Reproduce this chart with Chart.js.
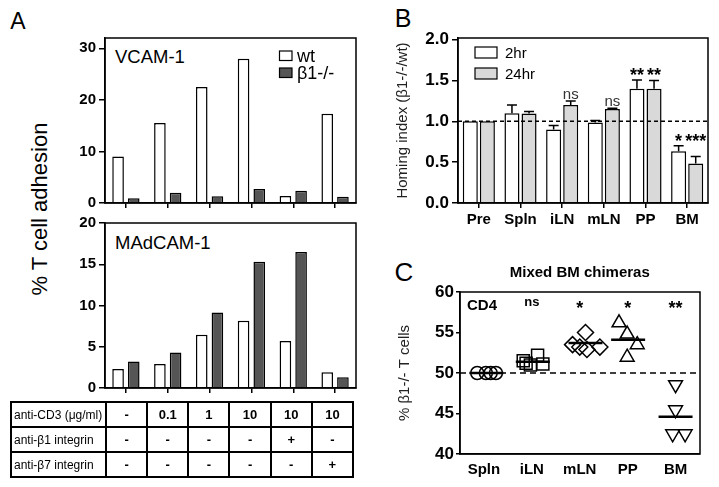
<!DOCTYPE html>
<html>
<head>
<meta charset="utf-8">
<script src="https://cdn.jsdelivr.net/npm/chart.js@4.4.1/dist/chart.umd.min.js"></script>
<style>
  body { margin: 0; background: #fff; font-family: 'Liberation Sans', Arial, sans-serif; }
  #fig { position: relative; width: 719px; height: 487px; overflow: hidden; }
  canvas { position: absolute; }
  .txt { position: absolute; white-space: nowrap; color: #000; line-height: 1; transform: translate(-50%, -50%); }
  #cond { position: absolute; left: 10px; top: 401px; border-collapse: collapse; table-layout: fixed; width: 344px; }
  #cond td { border: 2px solid #000; height: 25px; padding: 0; box-sizing: border-box; }
  #cond td.name { font-size: 12px; padding-left: 2px; width: 95px; }
  #cond td.val { font-size: 13px; font-weight: bold; text-align: center; }
</style>
</head>
<body>
<div id="fig">
  <div class="txt" style="left:18px;top:21px;font-size:23px;">A</div>
  <div class="txt" style="left:403px;top:18px;font-size:25px;">B</div>
  <div class="txt" style="left:404px;top:272px;font-size:26px;">C</div>
  <div class="txt" style="left:40px;top:209px;font-size:22px;transform:translate(-50%,-50%) rotate(-90deg);">% T cell adhesion</div>
  <div class="txt" style="left:115px;top:57px;font-size:18.5px;transform:translate(0,-50%);">VCAM-1</div>
  <div class="txt" style="left:115px;top:243px;font-size:18.5px;transform:translate(0,-50%);">MAdCAM-1</div>

  <canvas id="aTop" width="300" height="194" style="left:60px;top:24px;"></canvas>
  <canvas id="aBottom" width="300" height="194" style="left:60px;top:209px;"></canvas>
  <table id="cond"><tbody id="condBody"></tbody></table>
  <canvas id="homing" width="329" height="214" style="left:390px;top:20px;"></canvas>
  <canvas id="chimera" width="329" height="224" style="left:390px;top:262px;"></canvas>
</div>

<script>
// ---- panel A: adhesion ----
const cd3Doses = ['-', '0.1', '1', '10', '10', '10'];
const antiB1 = ['-', '-', '-', '-', '+', '-'];
const antiB7 = ['-', '-', '-', '-', '-', '+'];
const condRows = ['anti-CD3 (\u03bcg/ml)', 'anti-\u03b21 integrin', 'anti-\u03b27 integrin'];

const vcamWt = [9, 15.5, 22.5, 28, 1.35, 17.3];
const vcamKo = [0.9, 2.0, 1.3, 2.7, 2.4, 1.2];
const madcamWt = [2.3, 2.9, 6.45, 8.15, 5.7, 1.9];
const madcamKo = [3.2, 4.3, 9.15, 15.3, 16.5, 1.3];
const vcamTicks = [0, 10, 20, 30];
const madcamTicks = [0, 5, 10, 15, 20];

// ---- panel B: homing index ----
const homingSites = ['Pre', 'Spln', 'iLN', 'mLN', 'PP', 'BM'];
const homing2hr = [1.0, 1.10, 0.90, 0.985, 1.40, 0.635];
const homing2hrErr = [0, 0.10, 0.05, 0.025, 0.105, 0.065];
const homing24hr = [1.0, 1.095, 1.20, 1.15, 1.40, 0.485];
const homing24hrErr = [0, 0.025, 0.05, 0.01, 0.10, 0.085];
const homing2hrSig = ['', '', '', '', '**', '*'];
const homing24hrSig = ['', '', 'ns', 'ns', '**', '***'];
const homingTicks = [0, 0.5, 1.0, 1.5, 2.0];

// ---- panel C: mixed BM chimeras ----
const chimeraSites = ['Spln', 'iLN', 'mLN', 'PP', 'BM'];
const splnX = [0.86, 1.04, 1.14, 1.25];
const splnY = [50, 50, 50, 50];
const ilnX = [1.82, 2.12, 1.97, 2.23, 1.88];
const ilnY = [51.5, 52.2, 51.0, 51.1, 51.2];
const mlnX = [2.85, 3.12, 3.0, 3.15, 3.42];
const mlnY = [53.5, 55.0, 53.2, 52.9, 53.2];
const ppX = [3.82, 3.99, 4.2, 3.99];
const ppY = [56.2, 54.8, 53.5, 51.95];
const bmX = [5.0, 5.0, 4.94, 5.2];
const bmY = [48.55, 45.45, 42.5, 42.5];
const chimeraMeanX = [1.05, 2.02, 3.12, 4.01, 5.0];
const chimeraMean = [50, 51.4, 53.7, 54.1, 44.6];
const chimeraSig = ['', 'ns', '*', '*', '**'];
const chimeraTicks = [40, 45, 50, 55, 60];

Chart.defaults.font.family = "'Liberation Sans', Arial, sans-serif";
Chart.defaults.color = '#000';
Chart.defaults.animation = false;
Chart.defaults.plugins.legend.display = false;
Chart.defaults.plugins.tooltip.enabled = false;

// table under panel A
const condBody = document.getElementById('condBody');
[cd3Doses, antiB1, antiB7].forEach((row, r) => {
  const tr = document.createElement('tr');
  tr.innerHTML = `<td class="name">${condRows[r]}</td>` + row.map(v => `<td class="val">${v}</td>`).join('');
  condBody.appendChild(tr);
});

// plugins
const frame = {
  id: 'frame',
  afterDatasetsDraw(chart) {
    const { ctx, chartArea: a } = chart;
    const l = Math.round(a.left), t = Math.round(a.top), r = Math.round(a.right), b = Math.round(a.bottom);
    ctx.save();
    ctx.strokeStyle = '#000';
    ctx.lineWidth = 1.5;
    ctx.strokeRect(l, t, r - l, b - t);
    ctx.restore();
  }
};

function makeLegend(o) {
  return {
    id: 'boxLegend',
    afterDraw(chart) {
      const { ctx, chartArea: a } = chart;
      ctx.save();
      ctx.font = o.font;
      ctx.textBaseline = 'middle';
      chart.data.datasets.forEach((ds, i) => {
        const x = a.left + o.x, y = a.top + o.y + i * o.step;
        ctx.fillStyle = ds.backgroundColor;
        ctx.fillRect(x, y, o.w, o.h);
        ctx.lineWidth = 1.2;
        ctx.strokeStyle = '#000';
        ctx.strokeRect(x, y, o.w, o.h);
        ctx.fillStyle = '#000';
        ctx.fillText(ds.label, x + o.w + o.gap, y + o.h / 2 + 1);
      });
      ctx.restore();
    }
  };
}

function makeRefLine(value, dash) {
  return {
    id: 'refLine',
    afterDatasetsDraw(chart) {
      const { ctx, chartArea: a } = chart;
      const y = chart.scales.y.getPixelForValue(value);
      ctx.save();
      ctx.strokeStyle = '#000';
      ctx.lineWidth = 1.5;
      ctx.setLineDash(dash);
      ctx.beginPath();
      ctx.moveTo(a.left, y);
      ctx.lineTo(a.right, y);
      ctx.stroke();
      ctx.restore();
    }
  };
}

function makeErrBars(errors, sigs) {
  return {
    id: 'errBars',
    afterDatasetsDraw(chart) {
      const { ctx } = chart;
      const ys = chart.scales.y;
      ctx.save();
      ctx.strokeStyle = '#000';
      ctx.lineWidth = 1.5;
      const groupTop = [];
      chart.data.datasets.forEach((ds, i) => {
        const meta = chart.getDatasetMeta(i);
        ds.data.forEach((v, j) => {
          const top = ys.getPixelForValue(v + errors[i][j]);
          groupTop[j] = Math.min(groupTop[j] ?? Infinity, top);
          if (!errors[i][j]) return;
          const bar = meta.data[j];
          ctx.beginPath();
          ctx.moveTo(bar.x, bar.y);
          ctx.lineTo(bar.x, top);
          ctx.moveTo(bar.x - 5, top);
          ctx.lineTo(bar.x + 5, top);
          ctx.stroke();
        });
      });
      ctx.textAlign = 'center';
      ctx.textBaseline = 'alphabetic';
      chart.data.datasets.forEach((ds, i) => {
        const meta = chart.getDatasetMeta(i);
        sigs[i].forEach((s, j) => {
          if (!s) return;
          const x = meta.data[j].x;
          if (s === 'ns') {
            ctx.font = "15px 'Liberation Sans', Arial, sans-serif";
            ctx.fillStyle = '#333';
            ctx.fillText(s, x, groupTop[j] - 2);
          } else {
            ctx.font = "bold 18px 'Liberation Sans', Arial, sans-serif";
            ctx.fillStyle = '#000';
            ctx.fillText(s, x, groupTop[j] + 1);
          }
        });
      });
      ctx.restore();
    }
  };
}

const chimeraLabels = {
  id: 'chimeraLabels',
  afterDatasetsDraw(chart) {
    const { ctx, chartArea: a } = chart;
    const xs = chart.scales.x;
    ctx.save();
    ctx.fillStyle = '#000';
    ctx.textBaseline = 'middle';
    ctx.font = "bold 15px 'Liberation Sans', Arial, sans-serif";
    ctx.fillText('CD4', a.left + 7, a.top + 14);
    ctx.textAlign = 'center';
    ctx.textBaseline = 'alphabetic';
    chimeraSig.forEach((s, j) => {
      if (!s) return;
      const x = xs.getPixelForValue(j + 1);
      if (s === 'ns') {
        ctx.font = "bold 13px 'Liberation Sans', Arial, sans-serif";
        ctx.fillText(s, x, a.top + 14);
      } else {
        ctx.font = "bold 18px 'Liberation Sans', Arial, sans-serif";
        ctx.fillText(s, x, a.top + 22);
      }
    });
    ctx.restore();
  }
};

function yAxis(min, max, ticks, opts) {
  return {
    min, max,
    afterBuildTicks: s => { s.ticks = ticks.map(v => ({ value: v })); },
    afterFit: s => { s.width = opts.width; },
    grid: { drawOnChartArea: false, tickLength: opts.tickLength, color: '#000', lineWidth: 1.5 },
    border: { color: '#000', width: 1.5 },
    ticks: {
      color: '#000', padding: opts.padding,
      font: { size: opts.size, weight: 'bold' },
      callback: opts.format || (v => String(v))
    },
    title: opts.title || { display: false }
  };
}

function adhesionChart(id, wt, ko, max, ticks, legend, padTop) {
  const plugins = [frame];
  if (legend) plugins.push(makeLegend({ x: 174.5, y: 13, w: 12.5, h: 9.5, step: 17, gap: 5, font: "18px 'Liberation Sans', Arial, sans-serif" }));
  new Chart(document.getElementById(id), {
    type: 'bar',
    data: {
      labels: cd3Doses,
      datasets: [
        { label: 'wt', data: wt, backgroundColor: '#ffffff', borderColor: '#000', borderWidth: 1.5,
          categoryPercentage: 0.75, barPercentage: 0.74 },
        { label: '\u03b21-/-', data: ko, backgroundColor: '#555555', borderColor: '#000', borderWidth: 1.5,
          categoryPercentage: 0.75, barPercentage: 0.74 }
      ]
    },
    options: {
      responsive: false,
      devicePixelRatio: 1,
      layout: { padding: { top: padTop, right: 4, bottom: 10, left: 0 } },
      scales: {
        x: {
          grid: { offset: false, drawOnChartArea: false, tickLength: 5, color: '#000', lineWidth: 1.5 },
          border: { color: '#000', width: 1.5 },
          ticks: { display: false }
        },
        y: yAxis(0, max, ticks, { width: 45, tickLength: 6, padding: 3, size: 15 })
      }
    },
    plugins
  });
}

adhesionChart('aTop', vcamWt, vcamKo, 32, vcamTicks, true, 14);
adhesionChart('aBottom', madcamWt, madcamKo, 20, madcamTicks, false, 14);

new Chart(document.getElementById('homing'), {
  type: 'bar',
  data: {
    labels: homingSites,
    datasets: [
      { label: '2hr', data: homing2hr, backgroundColor: '#ffffff', borderColor: '#000', borderWidth: 1.5,
        categoryPercentage: 0.82, barPercentage: 0.88 },
      { label: '24hr', data: homing24hr, backgroundColor: '#d9d9d9', borderColor: '#000', borderWidth: 1.5,
        categoryPercentage: 0.82, barPercentage: 0.88 }
    ]
  },
  options: {
    responsive: false,
    devicePixelRatio: 1,
    layout: { padding: { top: 18, right: 11, bottom: 2, left: 0 } },
    scales: {
      x: {
        grid: { offset: false, drawOnChartArea: false, tickLength: 5, color: '#000', lineWidth: 1.5 },
        border: { color: '#000', width: 1.5 },
        ticks: { color: '#000', padding: 3, font: { size: 15, weight: 'bold' } }
      },
      y: yAxis(0, 2.02, homingTicks, {
        width: 68, tickLength: 6, padding: 3, size: 17,
        format: v => v.toFixed(1),
        title: { display: true, text: 'Homing index (\u03b21-/-/wt)', color: '#222',
                 font: { size: 15 }, padding: { top: 4, bottom: 0 } }
      })
    }
  },
  plugins: [frame, makeRefLine(1.0, [4, 3]), makeErrBars([homing2hrErr, homing24hrErr], [homing2hrSig, homing24hrSig]),
            makeLegend({ x: 17, y: 9, w: 22, h: 11, step: 21, gap: 8, font: "15px 'Liberation Sans', Arial, sans-serif" })]
});

const pts = (xs, ys) => xs.map((x, i) => ({ x, y: ys[i] }));
const open = { backgroundColor: 'rgba(0,0,0,0)', borderColor: '#000', borderWidth: 1.5 };

new Chart(document.getElementById('chimera'), {
  type: 'scatter',
  data: {
    datasets: [
      { label: 'Spln', data: pts(splnX, splnY), pointStyle: 'circle', pointRadius: 6.5, ...open },
      { label: 'iLN', data: pts(ilnX, ilnY), pointStyle: 'rect', pointRadius: 8.5, ...open },
      { label: 'mLN', data: pts(mlnX, mlnY), pointStyle: 'rectRot', pointRadius: 8, ...open },
      { label: 'PP', data: pts(ppX, ppY), pointStyle: 'triangle', pointRadius: 8, ...open },
      { label: 'BM', data: pts(bmX, bmY), pointStyle: 'triangle', rotation: 180, pointRadius: 8, ...open },
      { label: 'mean', data: pts(chimeraMeanX, chimeraMean), pointStyle: 'line', pointRadius: 17,
        borderColor: '#000', borderWidth: 2.5 }
    ]
  },
  options: {
    responsive: false,
    devicePixelRatio: 1,
    layout: { padding: { top: 2, right: 11, bottom: 0, left: 0 } },
    plugins: {
      title: { display: true, text: 'Mixed BM chimeras', fullSize: false, color: '#000',
               font: { size: 15, weight: 'bold' }, padding: { top: 0, bottom: 10 } }
    },
    scales: {
      x: {
        type: 'linear', min: 0.5, max: 5.5,
        afterBuildTicks: s => { s.ticks = chimeraSites.map((c, i) => ({ value: i + 1 })); },
        grid: { drawOnChartArea: false, drawTicks: false },
        border: { color: '#000', width: 1.5 },
        ticks: { color: '#000', padding: 7, font: { size: 15, weight: 'bold' },
                 callback: v => chimeraSites[Math.round(v) - 1] }
      },
      y: yAxis(40, 60, chimeraTicks, {
        width: 70, tickLength: 4, padding: 2, size: 17,
        title: { display: true, text: '% \u03b21-/- T cells', color: '#222',
                 font: { size: 15 }, padding: { top: 6, bottom: 0 } }
      })
    }
  },
  plugins: [frame, makeRefLine(50, [6, 4]), chimeraLabels]
});
</script>
</body>
</html>
